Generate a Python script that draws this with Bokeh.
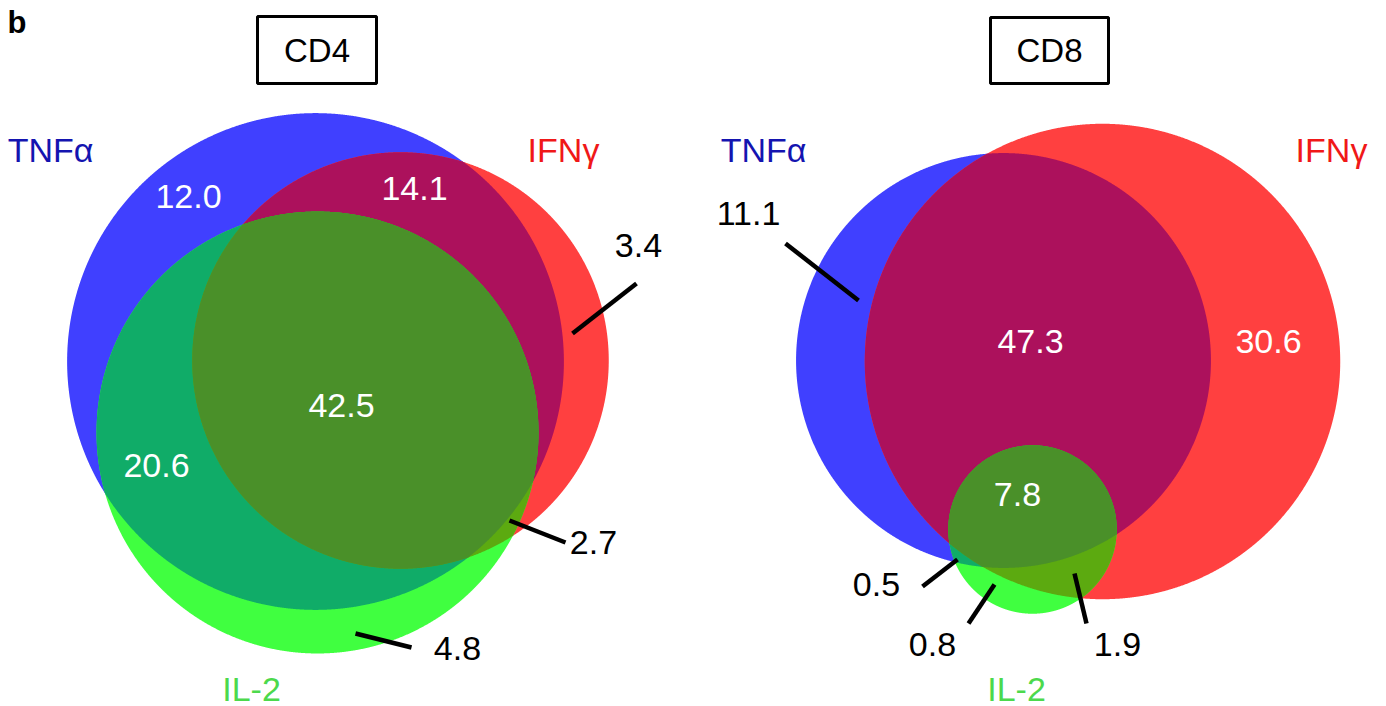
import numpy as np
from bokeh.plotting import figure
from bokeh.models import Range1d, ColumnDataSource
from bokeh.embed import file_html
from bokeh.resources import INLINE
from bokeh.core.properties import value

# Percent of cytokine-positive cells in each Venn region
# (T = TNFα, I = IFNγ, L = IL-2; combined keys are overlaps)
region_keys = ["T", "I", "L", "TI", "TL", "IL", "TIL"]
cd4_values = [12.0, 3.4, 4.8, 14.1, 20.6, 2.7, 42.5]
cd8_values = [11.1, 30.6, 0.8, 47.3, 0.5, 1.9, 7.8]

set_keys = ["T", "I", "L"]
set_names = ["TNFα", "IFNγ", "IL-2"]
panel_titles = ["CD4", "CD8"]

FONT = "Liberation Sans"

region_colors = {
    "T": "#4040FF", "I": "#FF4040", "L": "#40FF40",
    "TI": "#AC115C", "TL": "#10AC68", "IL": "#5CAA10",
    "TIL": "#4A9029",
}
name_colors = {"T": "#1414B0", "I": "#F01818", "L": "#4CD94C"}

# Panel layout in page pixels (y grows downward)
panels = [
    dict(
        title=panel_titles[0], values=cd4_values, scale=26.3,
        centers={"T": (315, 361), "I": (400, 360), "L": (317, 432)},
        box=(257, 16, 376, 83),
        names={"T": (50, 149), "I": (563, 149), "L": (251, 688)},
        labels={"T": (188, 196), "TI": (414, 188), "TIL": (341, 405),
                "TL": (156, 465), "I": (638, 245), "IL": (593, 542),
                "L": (457, 648)},
        leaders={"I": (572, 333, 636, 283), "IL": (509, 520, 565, 542),
                 "L": (355, 633, 411, 647)},
    ),
    dict(
        title=panel_titles[1], values=cd8_values, scale=25.4,
        centers={"T": (1003, 360), "I": (1102, 361), "L": (1032, 529)},
        box=(990, 17, 1108, 83),
        names={"T": (763, 149), "I": (1331, 149), "L": (1016, 688)},
        labels={"T": (748, 213), "TI": (1030, 341), "I": (1268, 341),
                "TIL": (1017, 494), "TL": (876, 584), "L": (932, 644),
                "IL": (1117, 644)},
        leaders={"T": (858, 300, 785, 243), "TL": (957, 559, 922, 586),
                 "L": (994, 584, 968, 623), "IL": (1074, 573, 1086, 623)},
    ),
]

W, H = 1386, 706
p = figure(width=W, height=H, x_range=Range1d(0, W), y_range=Range1d(H, 0),
           output_backend="svg", toolbar_location=None, min_border=0)
p.axis.visible = False
p.grid.visible = False
p.outline_line_color = None
p.background_fill_color = "white"
p.border_fill_color = "white"

N_PTS = 2400


def circle_pts(cx, cy, r):
    t = np.linspace(0, 2 * np.pi, N_PTS, endpoint=False)
    return cx + r * np.cos(t), cy + r * np.sin(t)


def intersection(circles):
    """Convex intersection of circles as a polygon (boundary points inside all)."""
    xs, ys = [], []
    for i, (cx, cy, r) in enumerate(circles):
        x, y = circle_pts(cx, cy, r)
        keep = np.ones_like(x, dtype=bool)
        for j, (ox, oy, orr) in enumerate(circles):
            if j != i:
                keep &= (x - ox) ** 2 + (y - oy) ** 2 <= orr ** 2
        xs.append(x[keep])
        ys.append(y[keep])
    x = np.concatenate(xs)
    y = np.concatenate(ys)
    mx, my = x.mean(), y.mean()
    order = np.argsort(np.arctan2(y - my, x - mx))
    return list(x[order]), list(y[order])


for pn in panels:
    vals = dict(zip(region_keys, pn["values"]))
    # each set's total sets its circle area
    totals = {k: sum(v for rk, v in vals.items() if k in rk) for k in set_keys}
    circ = {k: (pn["centers"][k][0], pn["centers"][k][1],
                pn["scale"] * np.sqrt(totals[k])) for k in set_keys}

    xs, ys, cols = [], [], []
    for k in set_keys:
        x, y = circle_pts(*circ[k])
        xs.append(list(x)); ys.append(list(y)); cols.append(region_colors[k])
    for combo in ["TI", "TL", "IL", "TIL"]:
        x, y = intersection([circ[c] for c in combo])
        xs.append(x); ys.append(y); cols.append(region_colors[combo])
    p.patches(xs="xs", ys="ys", fill_color="color", line_color=None,
              source=ColumnDataSource(dict(xs=xs, ys=ys, color=cols)))

    # leader lines for small regions
    lk = list(pn["leaders"].keys())
    p.segment(x0=[pn["leaders"][k][0] for k in lk], y0=[pn["leaders"][k][1] for k in lk],
              x1=[pn["leaders"][k][2] for k in lk], y1=[pn["leaders"][k][3] for k in lk],
              line_color="black", line_width=4.5)

    # region values
    lx, ly, lt, lc = [], [], [], []
    for k in region_keys:
        x, y = pn["labels"][k]
        lx.append(x); ly.append(y); lt.append(f"{vals[k]:.1f}")
        lc.append("black" if k in pn["leaders"] else "white")
    p.text(x=lx, y=ly, text=lt, text_color=lc, text_align="center",
           text_baseline="middle", text_font=value(FONT),
           text_font_size=value("34px"))

    # set names
    p.text(x=[pn["names"][k][0] for k in set_keys],
           y=[pn["names"][k][1] for k in set_keys],
           text=set_names, text_color=[name_colors[k] for k in set_keys],
           text_align="center", text_baseline="middle",
           text_font=value(FONT), text_font_size=value("34px"))

    # boxed panel title
    x0, y0, x1, y1 = pn["box"]
    p.quad(left=[x0], right=[x1], top=[y0], bottom=[y1], fill_color=None,
           line_color="black", line_width=3)
    p.text(x=[(x0 + x1) / 2], y=[(y0 + y1) / 2], text=[pn["title"]],
           text_color="black", text_align="center", text_baseline="middle",
           text_font=value(FONT), text_font_size=value("33px"))

p.text(x=[7], y=[22], text=["b"], text_color="black", text_align="left",
       text_baseline="middle", text_font=value(FONT),
       text_font_size=value("31px"), text_font_style="bold")

open("out.html", "w").write(file_html(p, INLINE))
